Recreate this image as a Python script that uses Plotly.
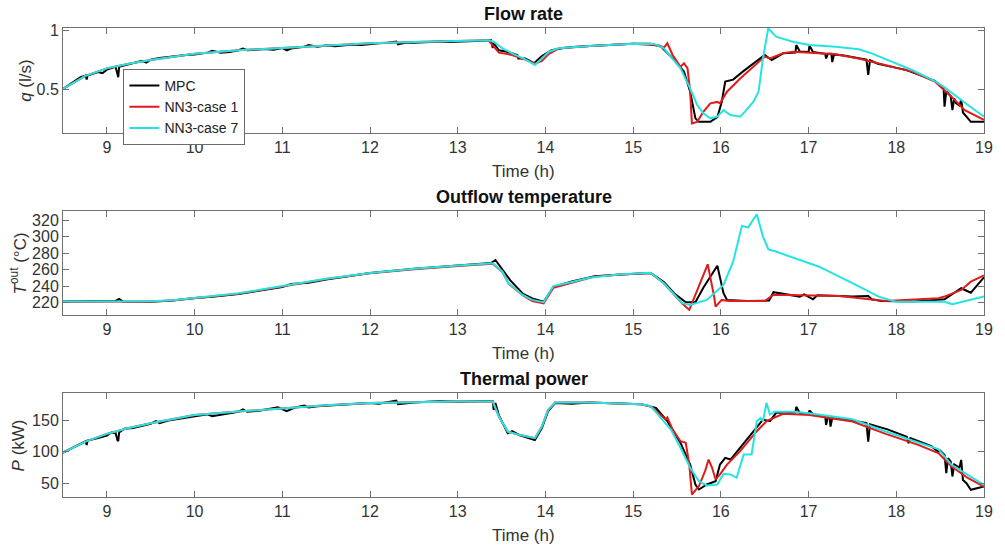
import plotly.graph_objects as go

# ---------------- DATA ----------------
# Flow rate q (l/s)
t_q_mpc = [8.5, 8.6, 8.7, 8.76, 8.77, 8.78, 8.9, 8.95, 9.0, 9.1, 9.12, 9.13, 9.14, 9.3, 9.4, 9.45, 9.5, 9.6, 9.7,
           9.8, 9.9, 10.0, 10.15, 10.2, 10.3, 10.4, 10.5, 10.55, 10.6, 10.7, 10.8, 10.9, 11.0, 11.05, 11.1, 11.25,
           11.3, 11.4, 11.5, 11.6, 11.7, 11.8, 11.9, 12.0, 12.1, 12.2, 12.3, 12.32, 12.4, 12.5, 12.6, 12.8, 12.9,
           13.0, 13.2, 13.38, 13.4, 13.41, 13.47, 13.55, 13.6, 13.68, 13.69, 13.77, 13.87, 13.96, 14.07, 14.2,
           14.35, 14.5, 14.65, 14.8, 15.0, 15.2, 15.32, 15.47, 15.58, 15.65, 15.71, 15.75, 15.88, 15.96, 16.01,
           16.05, 16.14, 16.25, 16.40, 16.50, 16.58, 16.71, 16.85, 16.86, 16.9, 17.0, 17.01, 17.05, 17.19, 17.2,
           17.22, 17.26, 17.27, 17.29, 17.4, 17.5, 17.66, 17.68, 17.70, 17.79, 17.9, 18.0, 18.1, 18.2, 18.3, 18.44,
           18.5, 18.54, 18.55, 18.57, 18.62, 18.64, 18.66, 18.68, 18.72, 18.74, 18.76, 18.80, 18.85, 19.0]
q_mpc = [0.50, 0.55, 0.60, 0.615, 0.58, 0.615, 0.645, 0.635, 0.665, 0.69, 0.62, 0.60, 0.69, 0.72, 0.74, 0.725,
         0.75, 0.765, 0.775, 0.78, 0.79, 0.795, 0.81, 0.825, 0.81, 0.815, 0.83, 0.845, 0.83, 0.835, 0.84, 0.835,
         0.85, 0.83, 0.845, 0.86, 0.875, 0.86, 0.87, 0.865, 0.875, 0.88, 0.875, 0.885, 0.89, 0.895, 0.905, 0.88,
         0.895, 0.895, 0.9, 0.905, 0.9, 0.905, 0.91, 0.915, 0.85, 0.89, 0.83, 0.82, 0.81, 0.79, 0.76, 0.76, 0.72,
         0.78, 0.83, 0.85, 0.86, 0.865, 0.87, 0.875, 0.885, 0.885, 0.86, 0.747, 0.648, 0.477, 0.25, 0.22, 0.22,
         0.26, 0.39, 0.563, 0.58, 0.648, 0.733, 0.79, 0.747, 0.804, 0.81, 0.875, 0.82, 0.815, 0.87, 0.815, 0.80,
         0.76, 0.80, 0.80, 0.73, 0.795, 0.785, 0.77, 0.75, 0.62, 0.745, 0.715, 0.70, 0.68, 0.665, 0.64, 0.61,
         0.57, 0.53, 0.50, 0.35, 0.48, 0.44, 0.32, 0.42, 0.38, 0.36, 0.41, 0.30, 0.26, 0.22, 0.22]

t_q_c1 = [8.5, 8.75, 9.0, 9.25, 9.5, 9.75, 10.0, 10.5, 11.0, 11.5, 12.0, 12.5, 13.0, 13.35, 13.47, 13.62, 13.77,
          13.88, 13.96, 14.04, 14.15, 14.5, 15.0, 15.3, 15.35, 15.39, 15.45, 15.54, 15.58, 15.62, 15.65, 15.67,
          15.73, 15.80, 15.88, 15.96, 15.99, 16.07, 16.22, 16.37, 16.50, 16.56, 16.71, 16.82, 17.01, 17.31, 17.57,
          17.87, 18.18, 18.44, 18.63, 18.78, 19.0]
q_c1 = [0.50, 0.61, 0.676, 0.715, 0.747, 0.775, 0.80, 0.83, 0.852, 0.872, 0.89, 0.90, 0.91, 0.915, 0.81, 0.79,
        0.75, 0.715, 0.74, 0.80, 0.845, 0.867, 0.885, 0.87, 0.85, 0.89, 0.79, 0.69, 0.72, 0.676, 0.477, 0.207, 0.22,
        0.306, 0.378, 0.39, 0.378, 0.477, 0.59, 0.69, 0.776, 0.76, 0.804, 0.818, 0.81, 0.796, 0.76, 0.705, 0.648,
        0.563, 0.434, 0.32, 0.236]

t_q_c7 = [8.5, 8.75, 9.0, 9.25, 9.5, 9.75, 10.0, 10.5, 11.0, 11.5, 12.0, 12.5, 13.0, 13.35, 13.41, 13.51, 13.62,
          13.77, 13.88, 13.96, 14.04, 14.15, 14.5, 15.0, 15.24, 15.35, 15.54, 15.65, 15.73, 15.80, 15.88, 15.96,
          16.03, 16.11, 16.22, 16.29, 16.37, 16.43, 16.48, 16.54, 16.63, 16.82, 17.01, 17.31, 17.57, 17.72, 17.95,
          18.18, 18.44, 18.55, 18.74, 19.0]
q_c7 = [0.50, 0.61, 0.676, 0.715, 0.747, 0.775, 0.80, 0.83, 0.852, 0.872, 0.89, 0.90, 0.91, 0.915, 0.904, 0.847,
        0.804, 0.753, 0.705, 0.761, 0.818, 0.847, 0.867, 0.885, 0.884, 0.847, 0.676, 0.506, 0.364, 0.293, 0.25,
        0.264, 0.32, 0.278, 0.264, 0.32, 0.39, 0.477, 0.76, 1.017, 0.946, 0.903, 0.875, 0.861, 0.838, 0.804, 0.733,
        0.662, 0.568, 0.514, 0.406, 0.264]

# Outflow temperature (°C)
t_T_mpc = [8.5, 9.0, 9.1, 9.14, 9.18, 9.5, 9.75, 10.0, 10.2, 10.5, 11.0, 11.1, 11.2, 11.3, 11.5, 12.0, 12.5, 13.0,
           13.38, 13.43, 13.51, 13.6, 13.74, 13.85, 13.98, 14.09, 14.3, 14.56, 14.86, 15.2, 15.35, 15.47, 15.6,
           15.71, 15.8, 15.96, 16.03, 16.07, 16.3, 16.55, 16.6, 16.75, 16.9, 16.95, 17.05, 17.1, 17.27, 17.5, 17.68,
           17.72, 17.83, 18.2, 18.55, 18.74, 18.85, 19.0]
T_mpc = [221.5, 221.5, 222, 224.5, 221.5, 221, 222.5, 225.5, 227, 230.5, 239, 242.5, 243, 244, 248, 256, 261, 265,
         268, 271.6, 260, 247, 231, 225, 221, 239, 245.5, 252, 254, 256, 245, 231, 220.5, 220.5, 238, 264.7, 231.4,
         223.3, 222, 222.5, 232.6, 230, 227.3, 230, 224, 229, 228.5, 227.5, 228, 224, 222, 221.5, 224, 237.4, 232,
         250.7]

t_T_c1 = [8.5, 9.0, 9.5, 9.75, 10.0, 10.5, 11.0, 11.5, 12.0, 12.5, 13.0, 13.4, 13.51, 13.58, 13.74, 13.85, 13.98,
          14.09, 14.3, 14.56, 14.86, 15.2, 15.35, 15.47, 15.56, 15.64, 15.75, 15.85, 15.92, 15.94, 16.01, 16.09,
          16.5, 16.6, 16.9, 17.35, 17.88, 18.48, 18.55, 18.74, 18.85, 19.0]
T_c1 = [221.2, 221.2, 221.4, 222.5, 225.5, 230.8, 239.5, 248.5, 255.5, 260.5, 264.5, 267, 257, 243, 229, 222, 219,
        238, 244, 251.5, 254, 256, 243.4, 229.3, 219, 211.2, 240, 266.4, 229.3, 215.2, 223.3, 222, 222, 229.5, 229,
        228, 222, 225.3, 227.3, 235.4, 245.4, 253]

t_T_c7 = [8.5, 9.0, 9.5, 9.75, 10.0, 10.5, 11.0, 11.5, 12.0, 12.5, 13.0, 13.4, 13.51, 13.58, 13.74, 13.85, 13.98,
          14.09, 14.3, 14.5, 14.86, 15.2, 15.35, 15.47, 15.56, 15.65, 15.84, 16.03, 16.14, 16.24, 16.31, 16.41,
          16.48, 16.54, 16.56, 16.61, 17.12, 17.5, 17.8, 17.99, 18.55, 18.64, 19.0]
T_c7 = [221.5, 221.5, 221.7, 223, 226, 231.3, 240, 249, 256, 261, 265, 267.6, 257.5, 243.4, 229.3, 223.3, 220.5,
        240, 245, 250, 254.3, 256.3, 243.4, 229.3, 219.3, 217.2, 223.3, 241.4, 269.6, 313, 311, 327, 300, 285,
        283.7, 282.5, 263.5, 243.5, 227.3, 221.2, 221, 218, 227.3]

# Thermal power P (kW)
t_P_mpc = [8.5, 8.6, 8.7, 8.76, 8.77, 8.78, 8.9, 9.0, 9.05, 9.1, 9.12, 9.13, 9.14, 9.2, 9.3, 9.4, 9.5, 9.56, 9.6,
           9.7, 9.8, 9.9, 10.0, 10.15, 10.2, 10.3, 10.4, 10.5, 10.55, 10.6, 10.75, 10.9, 10.95, 11.05, 11.15, 11.25,
           11.3, 11.4, 11.5, 11.65, 11.8, 12.0, 12.1, 12.2, 12.3, 12.32, 12.5, 12.65, 12.8, 13.0, 13.15, 13.3, 13.4,
           13.41, 13.43, 13.47, 13.57, 13.62, 13.7, 13.88, 13.96, 14.03, 14.11, 14.3, 14.5, 14.7, 15.09, 15.26,
           15.39, 15.54, 15.65, 15.71, 15.75, 15.84, 15.94, 15.99, 16.05, 16.11, 16.22, 16.37, 16.48, 16.56, 16.63,
           16.85, 16.86, 16.9, 17.0, 17.01, 17.05, 17.19, 17.2, 17.22, 17.24, 17.25, 17.27, 17.5, 17.66, 17.68,
           17.7, 17.9, 18.12, 18.14, 18.16, 18.4, 18.48, 18.5, 18.55, 18.57, 18.59, 18.62, 18.64, 18.66, 18.72,
           18.74, 18.76, 18.8, 18.85, 19.0]
P_mpc = [99, 106, 113, 117, 111, 118, 122, 126, 131, 130, 119, 117, 131, 137, 138, 141, 145, 149, 146, 150, 152,
         154, 156, 160, 157, 159, 162, 164, 168, 164, 166, 169, 171, 165, 171, 174, 171, 173, 174, 175, 176, 178,
         177, 179, 182, 176, 179, 180, 181, 180, 181, 181, 181, 167, 178, 158, 130, 133, 127, 119, 138, 165, 178,
         177, 179, 178, 176, 170.3, 149, 114.4, 79.8, 48, 40, 48, 53.3, 79.8, 90.5, 87.8, 106.5, 133, 151.6, 149,
         162.3, 163, 172, 162, 161, 166, 160, 156, 143, 156, 155, 140.4, 154, 150, 146, 116.5, 144, 136, 124, 114,
         122, 109, 100, 102, 95, 66, 90, 85, 60.7, 80, 75, 87.3, 55, 50, 39.5, 44.7]

t_P_c1 = [8.5, 8.75, 9.0, 9.25, 9.5, 9.75, 10.0, 10.5, 11.0, 11.5, 12.0, 12.5, 13.0, 13.4, 13.47, 13.57, 13.7,
          13.88, 13.96, 14.03, 14.11, 14.5, 15.09, 15.2, 15.32, 15.37, 15.39, 15.45, 15.54, 15.6, 15.64, 15.67,
          15.75, 15.82, 15.86, 15.9, 15.94, 15.99, 16.07, 16.22, 16.41, 16.52, 16.71, 16.82, 17.01, 17.5, 17.88,
          18.25, 18.48, 18.63, 18.82, 19.0]
P_c1 = [99, 116, 128.8, 138, 145.8, 153, 159, 164.4, 169.8, 174.5, 178, 179.5, 180.3, 180.3, 156.4, 132.5, 127.2,
        121.9, 140.4, 167, 178.7, 178.7, 176, 173, 157, 151.6, 155, 135.6, 117, 114.4, 79.8, 32, 45.4, 69.3, 87.8,
        74.6, 56, 64, 79.8, 101.2, 133, 149, 160.7, 160, 159, 148.4, 128.8, 111.2, 98, 76.6, 58, 44.7]

t_P_c7 = [8.5, 8.75, 9.0, 9.25, 9.5, 9.75, 10.0, 10.5, 11.0, 11.5, 12.0, 12.5, 13.0, 13.4, 13.47, 13.57, 13.7,
          13.88, 13.96, 14.03, 14.11, 14.5, 15.09, 15.2, 15.32, 15.43, 15.54, 15.65, 15.75, 15.84, 15.96, 16.03,
          16.11, 16.18, 16.26, 16.35, 16.41, 16.45, 16.48, 16.52, 16.56, 16.61, 16.82, 17.01, 17.5, 17.88, 18.25,
          18.48, 18.63, 18.82, 19.0]
P_c7 = [99, 116, 128.8, 138, 145.8, 153, 159, 164.4, 169.8, 174.5, 178, 179.5, 180.3, 180.3, 156.4, 132.5, 127.2,
        121.9, 140.4, 167, 178.7, 178.7, 176, 173, 154.3, 135.6, 106.5, 74.6, 53.3, 46.4, 48, 65, 64, 58.6, 95.8,
        95.8, 149, 154.3, 149, 178.2, 159.6, 163.9, 163.9, 161.8, 152.2, 132.5, 115, 104.4, 79.4, 63.4, 47.4]

series_names = ["MPC", "NN3-case 1", "NN3-case 7"]
series_colors = ["#000000", "#e01b1b", "#26e3e3"]
x_ticks = [9, 10, 11, 12, 13, 14, 15, 16, 17, 18, 19]
panel_titles = ["Flow rate", "Outflow temperature", "Thermal power"]
y_titles = ["<i>q</i> (l/s)", "<i>T</i><sup>out</sup> (°C)", "<i>P</i> (kW)"]
y_ranges = [[0.125, 1.02], [205, 331], [28, 194]]
y_ticks = [[0.5, 1], [220, 240, 260, 280, 300, 320], [50, 100, 150]]
y_ticktext = [["0.5", "1"], None, None]

panels = [
    [(t_q_mpc, q_mpc), (t_q_c1, q_c1), (t_q_c7, q_c7)],
    [(t_T_mpc, T_mpc), (t_T_c1, T_c1), (t_T_c7, T_c7)],
    [(t_P_mpc, P_mpc), (t_P_c1, P_c1), (t_P_c7, P_c7)],
]

# ---------------- LAYOUT GEOMETRY (pixels) ----------------
W, H = 1005, 551
ML, MR, MT, MB = 63, 12, 28, 54
PW, PH = W - ML - MR, H - MT - MB
panel_px = [(28, 133), (211, 315), (393, 497)]


def py2paper(py):
    return 1 - (py - MT) / PH


def px2paper(px):
    return (px - ML) / PW


fig = go.Figure()
for i, series in enumerate(panels):
    xa = "x" if i == 0 else f"x{i+1}"
    ya = "y" if i == 0 else f"y{i+1}"
    for j, (tx, vy) in enumerate(series):
        fig.add_trace(go.Scatter(
            x=tx, y=vy, mode="lines", name=series_names[j],
            line=dict(color=series_colors[j], width=2),
            xaxis=xa, yaxis=ya, showlegend=(i == 0), hoverinfo="skip"))

font_family = "Liberation Sans, Arial, sans-serif"
axis_color = "#707070"
text_color = "#333333"

layout = dict(
    width=W, height=H,
    margin=dict(l=ML, r=MR, t=MT, b=MB, pad=0),
    paper_bgcolor="white", plot_bgcolor="white",
    font=dict(family=font_family, size=16, color=text_color),
    showlegend=True,
    legend=dict(x=px2paper(124), y=py2paper(69), xanchor="left", yanchor="top",
                bgcolor="white", bordercolor="#6a6a6a", borderwidth=1,
                font=dict(size=14, color="#222222"), tracegroupgap=0,
                itemwidth=30),
    annotations=[],
)

for i in range(3):
    top, bot = panel_px[i]
    xk = "xaxis" if i == 0 else f"xaxis{i+1}"
    yk = "yaxis" if i == 0 else f"yaxis{i+1}"
    ya = "y" if i == 0 else f"y{i+1}"
    xa = "x" if i == 0 else f"x{i+1}"
    layout[xk] = dict(
        domain=[0, 1], anchor=ya, range=[8.5, 19], tickvals=x_ticks,
        ticks="inside", ticklen=6, tickcolor=axis_color, tickwidth=1,
        showline=True, linecolor=axis_color, linewidth=1, mirror="ticks",
        showgrid=False, zeroline=False, tickfont=dict(size=16, color=text_color))
    ykd = dict(
        domain=[py2paper(bot), py2paper(top)], anchor=xa, range=y_ranges[i],
        tickvals=y_ticks[i],
        ticks="inside", ticklen=6, tickcolor=axis_color, tickwidth=1,
        showline=True, linecolor=axis_color, linewidth=1, mirror="ticks",
        showgrid=False, zeroline=False, tickfont=dict(size=16, color=text_color))
    if y_ticktext[i] is not None:
        ykd["ticktext"] = y_ticktext[i]
    layout[yk] = ykd
    # panel title
    layout["annotations"].append(dict(
        text=f"<b>{panel_titles[i]}</b>", xref="paper", yref="paper",
        x=0.5, y=py2paper(top - 14), xanchor="center", yanchor="middle",
        showarrow=False, font=dict(size=18, color="#111111")))
    # x-axis title
    layout["annotations"].append(dict(
        text="Time (h)", xref="paper", yref="paper",
        x=0.5, y=py2paper(bot + 38), xanchor="center", yanchor="middle",
        showarrow=False, font=dict(size=17, color=text_color)))

y_title_x = [25, 18, 18]
for i in range(3):
    top, bot = panel_px[i]
    layout["annotations"].append(dict(
        text=y_titles[i], xref="paper", yref="paper",
        x=px2paper(y_title_x[i]), y=py2paper((top + bot) / 2),
        xanchor="center", yanchor="middle", textangle=-90,
        showarrow=False, font=dict(size=17, color=text_color)))

fig.update_layout(**layout)
fig.write_html("out.html", config={"displayModeBar": False},
               post_script="document.body.style.margin='0';document.body.style.overflow='hidden';")
